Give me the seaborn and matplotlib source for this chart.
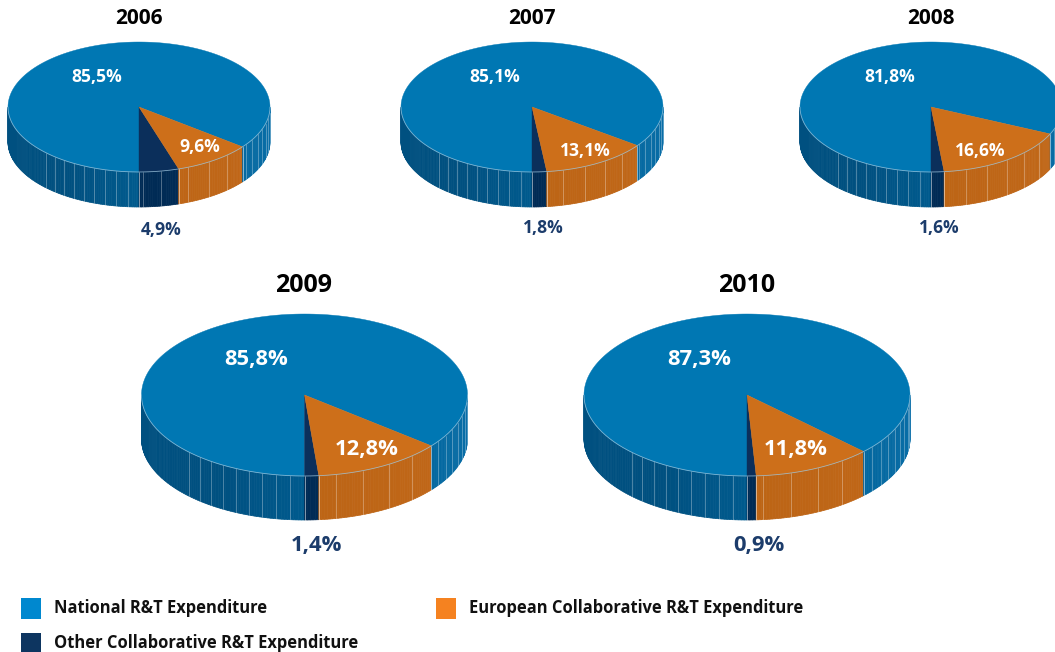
import numpy as np
import matplotlib
matplotlib.use('Agg')
import matplotlib.pyplot as plt
from matplotlib.patches import Rectangle
import seaborn as sns

years = ['2006', '2007', '2008', '2009', '2010']
national = [85.5, 85.1, 81.8, 85.8, 87.3]
european = [9.6, 13.1, 16.6, 12.8, 11.8]
other = [4.9, 1.8, 1.6, 1.4, 0.9]
legend_labels = ['National R&T Expenditure', 'European Collaborative R&T Expenditure',
                 'Other Collaborative R&T Expenditure']

# layout, in pixels of the picture
centers = [(139, 107), (532, 107), (931, 107), (304.5, 395), (747, 395)]
radii = [(131, 65), (131, 65), (131, 65), (163, 81), (163, 81)]
depths = [35, 35, 35, 44, 44]
title_y = [18, 18, 18, 285, 285]
title_size = [15, 15, 15, 18, 18]
label_size = [12.6, 12.6, 12.6, 15.8, 15.8]
national_pos = [(97, 77), (495, 77), (890, 77), (256, 359), (699, 359)]
european_pos = [(200, 147), (585, 151), (980, 151), (367, 449), (796, 449)]
other_pos = [(161, 230), (543, 228), (939, 228), (316, 546), (759, 546)]

sns.set_theme(style='white')
plt.rcParams['font.family'] = ['Open Sans', 'DejaVu Sans']

top_colors = {'national': '#0077b3', 'european': '#cd6f1a', 'other': '#0b2f5b'}
legend_colors = ['#0088cf', '#f58220', '#0d3560']
text_blue = '#1c3c6b'

# wall shades, from the left edge round to the right edge
blue_wall = sns.blend_palette(['#005080', '#005080', '#00659c', '#0a6ea8'], 181)
orange_wall = sns.blend_palette(['#b76110', '#c2681a'], 181)
dark_wall = sns.blend_palette(['#002b55', '#002b55'], 181)
walls = {'national': blue_wall, 'european': orange_wall, 'other': dark_wall}
facet_step = {'national': 5, 'european': 10, 'other': 8}


def rim(cx, cy, rx, ry, t):
    # t in degrees, 0 is the front of the pie, going to the right
    r = np.radians(t)
    return cx + rx * np.sin(r), cy + ry * np.cos(r)


def draw_wall(ax, cx, cy, rx, ry, depth, start, end, name):
    # only the front half of the wall can be seen
    if end <= start:
        return
    edges = np.unique(np.r_[start, np.arange(np.ceil(start), end), end])
    for a, b in zip(edges[:-1], edges[1:]):
        x, y = rim(cx, cy, rx, ry, np.array([a, b]))
        color = walls[name][int(round((a + b) / 2)) + 90]
        ax.fill(np.r_[x, x[::-1]], np.r_[y, y[::-1] + depth], color=color, ec=color, lw=0.5, zorder=2)
    # thin facet lines, they fade out to the left
    step = facet_step[name]
    for a in np.arange(end - step, start, -step):
        if a < -45:
            continue
        x, y = rim(cx, cy, rx, ry, a)
        ax.plot([x, x], [y, y + depth], color='white', lw=0.6, alpha=0.35, zorder=3)


def draw_top(ax, cx, cy, rx, ry, start, end, name):
    t = np.linspace(start, end, 200)
    x, y = rim(cx, cy, rx, ry, t)
    ax.fill(np.r_[cx, x], np.r_[cy, y], color=top_colors[name], lw=0.3, zorder=4)


fig, ax = plt.subplots(figsize=(10.55, 6.52), dpi=100)
fig.subplots_adjust(0, 0, 1, 1)
ax.set_xlim(0, 1055)
ax.set_ylim(652, 0)
ax.axis('off')

for i, year in enumerate(years):
    cx, cy = centers[i]
    rx, ry = radii[i]
    depth = depths[i]
    a = other[i] * 3.6
    b = a + european[i] * 3.6

    # national wraps round the back, so its wall comes in two pieces
    draw_wall(ax, cx, cy, rx, ry, depth, -90, 0, 'national')
    draw_wall(ax, cx, cy, rx, ry, depth, 0, a, 'other')
    draw_wall(ax, cx, cy, rx, ry, depth, a, min(b, 90), 'european')
    draw_wall(ax, cx, cy, rx, ry, depth, b, 90, 'national')

    # light seams where the colours meet
    for t in [0, a, b]:
        x, y = rim(cx, cy, rx, ry, t)
        ax.plot([x, x], [y, y + depth], color='white', lw=0.6, alpha=0.6, zorder=3)

    draw_top(ax, cx, cy, rx, ry, b, 360, 'national')
    draw_top(ax, cx, cy, rx, ry, 0, a, 'other')
    draw_top(ax, cx, cy, rx, ry, a, b, 'european')

    # light rim along the front of the top face
    t = np.linspace(-90, 90, 200)
    x, y = rim(cx, cy, rx, ry, t)
    ax.plot(x, y, color='#9cc6de', lw=0.6, alpha=0.8, zorder=5)

    ax.text(cx - 0.5, title_y[i], year, ha='center', va='center', color='black',
            fontsize=title_size[i], fontweight='bold', zorder=6)
    ax.text(*national_pos[i], f'{national[i]:.1f}%'.replace('.', ','), ha='center', va='center',
            color='white', fontsize=label_size[i], fontweight='bold', zorder=6)
    ax.text(*european_pos[i], f'{european[i]:.1f}%'.replace('.', ','), ha='center', va='center',
            color='white', fontsize=label_size[i], fontweight='bold', zorder=6)
    ax.text(*other_pos[i], f'{other[i]:.1f}%'.replace('.', ','), ha='center', va='center',
            color=text_blue, fontsize=label_size[i], fontweight='bold', zorder=6)

# legend
legend_boxes = [(21, 598), (436, 598), (21, 633)]
legend_text = [(54, 608), (469, 608), (54, 643)]
for i in range(3):
    ax.add_patch(Rectangle(legend_boxes[i], 20, 21, color=legend_colors[i], lw=0))
    ax.text(*legend_text[i], legend_labels[i], ha='left', va='center', color='#111111',
            fontsize=11.9, fontweight='bold')

fig.savefig('out.png', dpi=100)
